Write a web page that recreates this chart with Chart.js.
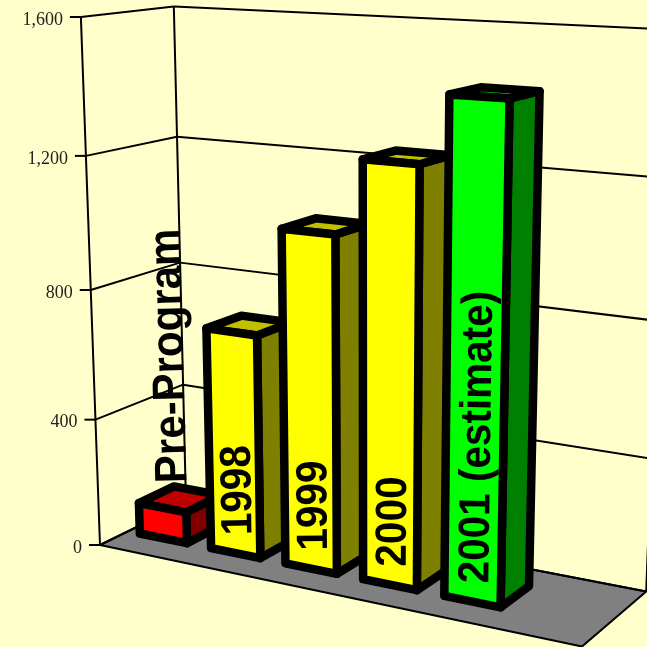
<!DOCTYPE html>
<html><head><meta charset="utf-8">
<style>html,body{margin:0;padding:0;background:#FFFFCC}canvas{display:block}</style>
<script src="https://cdn.jsdelivr.net/npm/chart.js@4/dist/chart.umd.js"></script>
</head><body><div style="width:647px;height:647px"><canvas id="c" width="647" height="647"></canvas></div>
<script>
const categories = ["Pre-Program","1998","1999","2000","2001 (estimate)",""];
const values = [100,690,1015,1235,1430,null];
const frontColors = ["#FF0000","#FFFF00","#FFFF00","#FFFF00","#00FF00","#000000"];
const topColors = ["#C00000","#C0C000","#C0C000","#C0C000","#00C000","#000000"];
const sideColors = ["#800000","#808000","#808000","#808000","#008000","#000000"];
const tickStep = 400, axisMax = 1600;

// perspective camera: origin corner, three vanishing points, one screen x/y per axis unit
const O=[100,545],VX=[-3200,-150],VZ=[1506,-144],VY=[370,8000];
const AX=(O[0]-582)/(582-VX[0]), AZ=(186-O[0])/(VZ[0]-186), AY=(O[1]-17)/(17-VY[1]);
const Z0=0.315,Z1=0.725;
function proj(x,y,z){
  const w=1+AX*x+AY*y+AZ*z;
  return [(O[0]+AX*x*VX[0]+AY*y*VY[0]+AZ*z*VZ[0])/w,(O[1]+AX*x*VX[1]+AY*y*VY[1]+AZ*z*VZ[1])/w];
}
function poly(ctx,pts,fill,lw){
  ctx.beginPath();pts.forEach((p,i)=>i?ctx.lineTo(p[0],p[1]):ctx.moveTo(p[0],p[1]));ctx.closePath();
  if(fill){ctx.fillStyle=fill;ctx.fill();}
  if(lw){ctx.lineWidth=lw;ctx.strokeStyle="#000";ctx.lineJoin="round";ctx.stroke();}
}
function line(ctx,p,q,lw){ctx.beginPath();ctx.moveTo(p[0],p[1]);ctx.lineTo(q[0],q[1]);ctx.lineWidth=lw;ctx.strokeStyle="#000";ctx.lineCap="butt";ctx.stroke();}

// bars: the library's bar element, drawn as a box through the projection
Chart.BarElement.prototype.draw=function(ctx){
  const chart=this.$chart3d, A=chart.chartArea, i=this.$idx;
  if(values[i]==null) return;
  const wx=p=>(p-A.left)/A.width, wy=p=>(A.bottom-p)/A.height;
  const x0=wx(this.x-this.width/2),x1=wx(this.x+this.width/2),y1=wy(this.y),y0=wy(this.base);
  const fbl=proj(x0,y0,Z0),fbr=proj(x1,y0,Z0),ftl=proj(x0,y1,Z0),ftr=proj(x1,y1,Z0);
  const bbr=proj(x1,y0,Z1),btl=proj(x0,y1,Z1),btr=proj(x1,y1,Z1);
  ctx.save();
  poly(ctx,[fbr,bbr,btr,ftr],sideColors[i],8.5);
  poly(ctx,[ftl,ftr,btr,btl],topColors[i],8.5);
  poly(ctx,[fbl,fbr,ftr,ftl],this.options.backgroundColor,8.5);
  ctx.restore();
};

const scene={id:"scene",
  beforeDatasetsDraw(chart){
    const ctx=chart.ctx,Y=chart.scales.y;ctx.save();
    poly(ctx,[proj(0,0,0),proj(1,0,0),proj(1,0,1),proj(0,0,1)],"#808080",2);
    const A=chart.chartArea;
    Y.ticks.forEach(t=>{
      const y=(A.bottom-Y.getPixelForValue(t.value))/A.height;
      const p=proj(0,y,0),q=proj(0,y,1),r=proj(1,y,1);
      line(ctx,p,q,2);line(ctx,q,r,2);line(ctx,[p[0]-11,p[1]],p,2);
      ctx.fillStyle="#222";ctx.font="18px 'Liberation Serif'";ctx.textAlign="right";ctx.textBaseline="middle";
      ctx.fillText(t.value.toLocaleString("en-US"),p[0]-18,p[1]+3);
    });
    line(ctx,proj(0,0,0),proj(0,1,0),2);line(ctx,proj(0,0,1),proj(0,1,1),2);line(ctx,proj(1,0,1),proj(1,1,1),2);
    ctx.restore();
  },
  afterDatasetsDraw(chart){
    const ctx=chart.ctx,A=chart.chartArea,meta=chart.getDatasetMeta(0);
    ctx.save();ctx.fillStyle="#000";ctx.textAlign="left";ctx.textBaseline="alphabetic";
    meta.data.forEach((bar,i)=>{
      if(values[i]==null) return;
      const xc=(bar.x-A.left)/A.width, yt=(A.bottom-bar.y)/A.height;
      const small=values[i]<axisMax/8;
      const y=small?yt:0;
      const p=proj(xc,y,Z0),q=proj(xc,y+0.5,Z0);
      const ang=Math.atan2(q[1]-p[1],q[0]-p[0]);
      ctx.font="bold "+(small?42:40.5)+"px 'Liberation Sans'";
      ctx.save();
      ctx.translate(p[0]+(small?24:16),p[1]-(small?25:18));
      ctx.rotate(ang);
      ctx.scale(1,1.08);
      ctx.fillText(categories[i],0,0);
      ctx.restore();
    });
    ctx.restore();
  }
};

const chart=new Chart(document.getElementById("c"),{
  type:"bar",
  data:{labels:categories,datasets:[{data:values,backgroundColor:frontColors,borderWidth:0,barPercentage:0.667,categoryPercentage:1,clip:false}]},
  options:{responsive:false,animation:false,events:[],layout:{padding:0},
    scales:{x:{display:false,offset:true},y:{display:false,min:0,max:axisMax,ticks:{stepSize:tickStep}}},
    plugins:{legend:{display:false},tooltip:{enabled:false},title:{display:false}}},
  plugins:[scene,{id:"tag",beforeDatasetsDraw(c){c.getDatasetMeta(0).data.forEach((b,i)=>{b.$chart3d=c;b.$idx=i;});}}]
});
</script></body></html>
